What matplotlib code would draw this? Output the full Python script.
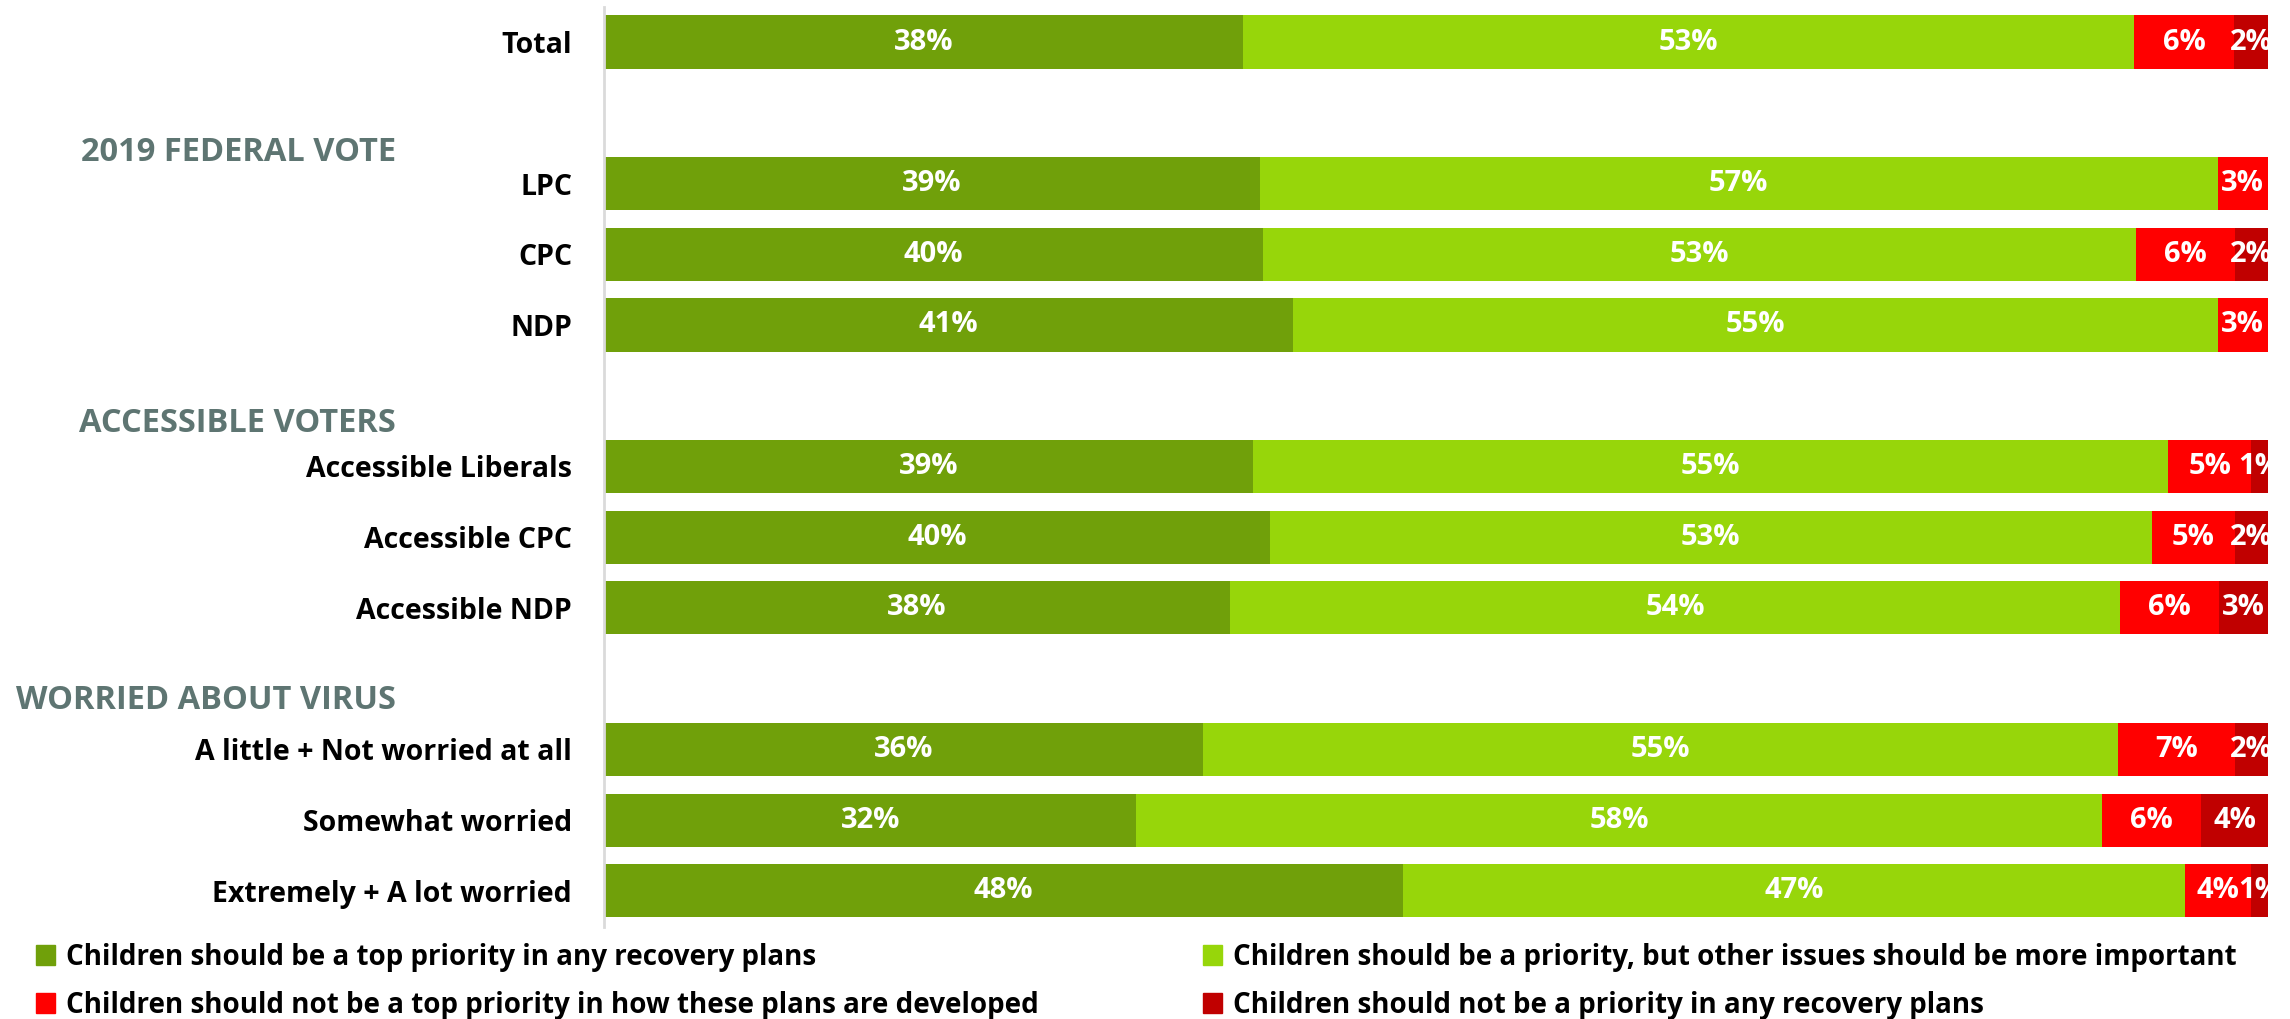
import matplotlib
matplotlib.use("Agg")
import matplotlib.pyplot as plt
from matplotlib.patches import Rectangle
import numpy as np

plt.rcParams['font.family'] = ['Open Sans', 'DejaVu Sans']

# ---------------- data ----------------
categories = ["Total", "LPC", "CPC", "NDP",
              "Accessible Liberals", "Accessible CPC", "Accessible NDP",
              "A little + Not worried at all", "Somewhat worried", "Extremely + A lot worried"]
top_priority = [38, 39, 40, 41, 39, 40, 38, 36, 32, 48]
priority_other = [53, 57, 53, 55, 55, 53, 54, 55, 58, 47]
not_top_priority = [6, 3, 6, 3, 5, 5, 6, 7, 6, 4]
not_priority = [2, 0, 2, 0, 1, 2, 3, 2, 4, 1]
series_names = ["Children should be a top priority in any recovery plans",
                "Children should be a priority, but other issues should be more important",
                "Children should not be a top priority in how these plans are developed",
                "Children should not be a priority in any recovery plans"]
group_headers = ["2019 FEDERAL VOTE", "ACCESSIBLE VOTERS", "WORRIED ABOUT VIRUS"]

# ---------------- layout / style ----------------
colors = ["#70A00A", "#97D60A", "#FF0000", "#C00000"]
header_color = "#5E7572"
row_pos = [0, 2, 3, 4, 6, 7, 8, 10, 11, 12]
header_baseline_px = [161, 432, 709]

W, H = 2290, 1019
fig = plt.figure(figsize=(W / 100, H / 100), dpi=100)
ax = fig.add_axes([604 / W, 1 - 927 / H, (2268 - 604) / W, (927 - 7) / H])

series = [top_priority, priority_other, not_top_priority, not_priority]
vals = np.array(series, dtype=float)  # shape (4, n)
totals = vals.sum(axis=0)
shares = vals / totals * 100
left = np.zeros(len(categories))
for i, (s, c) in enumerate(zip(shares, colors)):
    ax.barh(row_pos, s, left=left, height=0.75, color=c, edgecolor='none')
    for y, l, w, v in zip(row_pos, left, s, series[i]):
        if v > 0:
            ax.text(l + w / 2, y, f"{v}%", ha='center', va='center', color='white',
                    fontsize=21, fontweight='bold', clip_on=True)
    left = left + s

ax.set_xlim(0, 100)
ax.set_ylim(12.51, -0.495)
ax.set_yticks(row_pos)
ax.set_yticklabels(categories, fontsize=20.5, fontweight='bold', color='black')
ax.tick_params(axis='y', length=0, pad=23)
ax.set_xticks([])
for sp in ['top', 'right', 'bottom']:
    ax.spines[sp].set_visible(False)
ax.spines['left'].set_color('#DADADA')
ax.spines['left'].set_linewidth(2)

for txt, yb in zip(group_headers, header_baseline_px):
    fig.text(396 / W, 1 - yb / H, txt, ha='right', va='baseline', color=header_color,
             fontsize=23.5, fontweight='bold')

# legend
leg_x = [36, 1203]
leg_y = [965, 1013]
for i, (name, c) in enumerate(zip(series_names, colors)):
    x0 = leg_x[i % 2]
    yb = leg_y[i // 2]
    fig.patches.append(Rectangle((x0 / W, 1 - yb / H), 19 / W, 20 / H,
                                 transform=fig.transFigure, color=c))
    fig.text((x0 + 30) / W, 1 - yb / H, name, ha='left', va='baseline',
             fontsize=20, fontweight='bold', color='black')

fig.savefig("out.png", dpi=100, facecolor='white')
